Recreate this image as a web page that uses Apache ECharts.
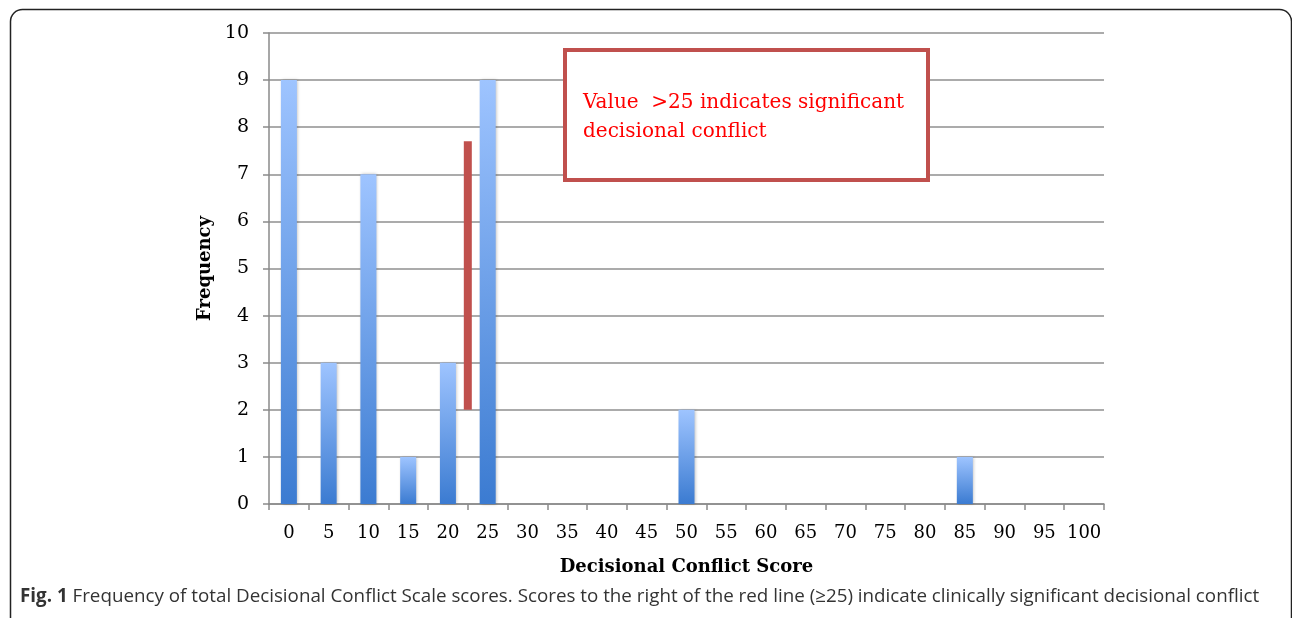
<!DOCTYPE html>
<html>
<head>
<meta charset="utf-8">
<script src="https://cdn.jsdelivr.net/npm/echarts@6/dist/echarts.min.js"></script>
<style>
  html, body { margin: 0; padding: 0; background: #fff; }
  #chart { width: 1292px; height: 618px; }
</style>
</head>
<body>
<div id="chart"></div>
<script>
// score bins and how many patients fell in each
const scores = ['0','5','10','15','20','25','30','35','40','45','50','55','60','65','70','75','80','85','90','95','100'];
const frequency = [9, 3, 7, 1, 3, 9, 0, 0, 0, 0, 2, 0, 0, 0, 0, 0, 0, 1, 0, 0, 0];
// red cut-off line, x in category index units (between 20 and 25), y in frequency
const cutoffLine = [[4.5, 2], [4.5, 7.7]];
const noteText = 'Value  >25 indicates significant\ndecisional conflict';

const chart = echarts.init(document.getElementById('chart'));
const serif = 'DejaVu Serif';

chart.setOption({
  animation: false,
  grid: { left: 269, right: 188, top: 33, bottom: 114 },
  xAxis: [
    {
      type: 'category',
      data: scores,
      name: 'Decisional Conflict Score',
      nameLocation: 'middle',
      nameGap: 54,
      nameTextStyle: { fontFamily: serif, fontWeight: 'bold', fontSize: 18, color: '#000' },
      axisLine: { lineStyle: { color: '#8a8a8a', width: 1.5 } },
      axisTick: { show: true, length: 6, lineStyle: { color: '#8a8a8a', width: 1.5 } },
      axisLabel: { fontFamily: serif, fontSize: 18, color: '#000', margin: 20, interval: 0 }
    },
    {
      type: 'value',
      min: -0.5,
      max: 20.5,
      show: false
    }
  ],
  yAxis: {
    type: 'value',
    min: 0,
    max: 10,
    interval: 1,
    name: 'Frequency',
    nameLocation: 'middle',
    nameGap: 49,
    nameTextStyle: { fontFamily: serif, fontWeight: 'bold', fontSize: 18, color: '#000' },
    axisLine: { show: true, onZero: false, lineStyle: { color: '#8a8a8a', width: 1.5 } },
    axisTick: { show: true, length: 6, lineStyle: { color: '#8a8a8a', width: 1.5 } },
    axisLabel: { fontFamily: serif, fontSize: 19, color: '#000', margin: 20 },
    splitLine: { lineStyle: { color: '#8f8f8f', width: 1.5 } }
  },
  series: [
    {
      type: 'bar',
      data: frequency,
      barWidth: 16,
      itemStyle: {
        color: new echarts.graphic.LinearGradient(0, 0, 0, 1, [
          { offset: 0, color: '#9ec4ff' },
          { offset: 1, color: '#3b7bd1' }
        ]),
        shadowBlur: 3,
        shadowOffsetX: 1,
        shadowColor: 'rgba(0,0,0,0.25)'
      }
    },
    {
      type: 'line',
      xAxisIndex: 1,
      data: cutoffLine,
      symbol: 'none',
      lineStyle: { color: '#c0504d', width: 8, cap: 'butt' },
      z: 5
    }
  ],
  graphic: [
    {
      type: 'rect',
      left: 8, top: 7,
      shape: { width: 1281, height: 630, r: 12 },
      style: { fill: 'none', stroke: '#222', lineWidth: 1.5 },
      silent: true
    },
    {
      type: 'rect',
      left: 563, top: 48,
      shape: { width: 363, height: 130 },
      style: { fill: '#fff', stroke: '#c0504d', lineWidth: 4 },
      z: 10
    },
    {
      type: 'text',
      left: 583, top: 88,
      style: { text: noteText, fill: '#ff0000', font: '20px "DejaVu Serif"', lineHeight: 29 },
      z: 11
    },
    {
      type: 'text',
      left: 20, top: 587,
      style: {
        text: '{b|Fig. 1} Frequency of total Decisional Conflict Scale scores. Scores to the right of the red line (≥25) indicate clinically significant decisional conflict',
        rich: {
          b: { fontFamily: 'Open Sans', fontWeight: 'bold', fontSize: 18.8, fill: '#333' }
        },
        fontFamily: 'Open Sans',
        fontSize: 18.8,
        fill: '#333'
      }
    }
  ]
});
</script>
</body>
</html>
